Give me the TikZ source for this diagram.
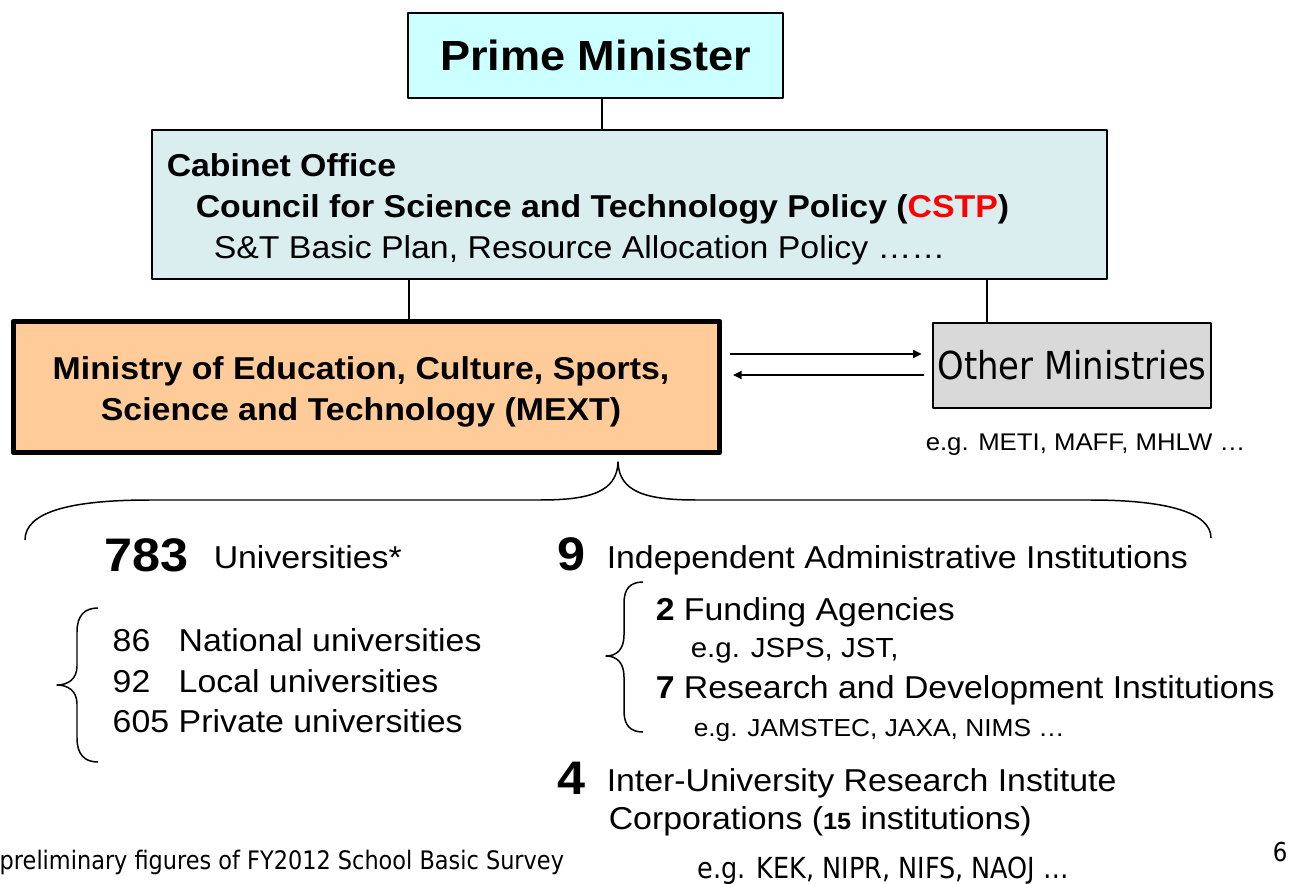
\documentclass[tikz,border=0pt]{standalone}
\usepackage{fontspec}
\setmainfont{Liberation Sans}[FakeStretch=1.07]
\newfontfamily\tahfont{DejaVu Sans}[FakeStretch=0.88]
\usetikzlibrary{arrows.meta}
\definecolor{pmcyan}{RGB}{204,255,255}
\definecolor{cabblue}{RGB}{218,238,240}
\definecolor{mextorange}{RGB}{255,204,153}
\definecolor{othergray}{RGB}{217,217,217}
\definecolor{cstpred}{RGB}{255,0,0}
\begin{document}
\begin{tikzpicture}
[x=0.02cm, y=-0.02cm, line width=0.85pt, line join=round,
 box/.style={draw, inner sep=0},
 txt/.style={anchor=base west, inner sep=0, font=\fontsize{18}{21}\selectfont},
 bold/.style={font=\bfseries\fontsize{18}{21}\selectfont},
 bignum/.style={font=\bfseries\fontsize{26.8}{30}\selectfont},
 arr/.style={-{Triangle[length=5pt,width=4.6pt]}, shorten <=0.16cm, shorten >=0.21cm}]
\useasboundingbox (0,0) rectangle (1293,884);
% top of the tree
\node[box, fill=pmcyan, minimum width=7.5cm, minimum height=1.7cm,
  font=\bfseries\fontsize{24}{28}\selectfont] (pm) at (595.5,55.5) {Prime Minister};
\node[box, fill=cabblue, minimum width=19.1cm, minimum height=2.98cm] (cab) at (629.5,204.5) {};
\node[txt, bold] (cabt) at (166,177) {Cabinet Office};
\node[txt, bold] (cstp) at (195,218) {Council for Science and Technology Policy (\textcolor{cstpred}{CSTP})};
\node[txt] (plan) at (213,259) {S\&T Basic Plan, Resource Allocation Policy ……};
\node[box, line width=2.85pt, fill=mextorange, minimum width=14.14cm, minimum height=2.62cm] (mext) at (366.5,387) {};
\node[align=center, inner sep=0, font=\bfseries\fontsize{18}{23.3}\selectfont] (mextt) at (361,392)
  {Ministry of Education, Culture, Sports,\\Science and Technology (MEXT)};
\node[box, fill=othergray, minimum width=5.56cm, minimum height=1.7cm,
  font=\tahfont\fontsize{21.9}{26}\selectfont] (other) at (1072,365.5) {Other Ministries};
\node[txt, font=\fontsize{13.7}{16}\selectfont] (othereg) at (925,451) {e.g. METI, MAFF, MHLW …};
\draw (pm.south -| 602,0) -- (cab.north -| 602,0);
\draw (cab.south -| 409,0) -- (mext.north -| 409,0);
\draw (cab.south -| 987,0) -- (other.north -| 987,0);
\draw[arr] (mext.east |- 0,354) -- (other.west |- 0,354);
\draw[arr] (other.west |- 0,375) -- (mext.east |- 0,375);
% braces
\draw (25,540) .. controls (25,512) and (70,500) .. (150,500) -- (540,500)
  .. controls (590,500) and (617,492) .. (618,462)
  .. controls (619,492) and (646,500) .. (696,500) -- (1090,500)
  .. controls (1165,500) and (1211,512) .. (1211,538);
\draw (98,608) .. controls (85,608) and (77,615) .. (77,632) -- (77,666)
  .. controls (77,679) and (68,685) .. (57,685)
  .. controls (68,685) and (77,691) .. (77,704) -- (77,738)
  .. controls (77,755) and (85,762) .. (98,762);
\draw (643,582) .. controls (630,582) and (624,589) .. (624,603) -- (624,635)
  .. controls (624,649) and (617,656) .. (606,656)
  .. controls (617,656) and (624,663) .. (624,677) -- (624,711)
  .. controls (624,725) and (630,732) .. (643,732);
% universities
\node[txt, bignum] (n783) at (104,571) {783};
\node[txt] (univ) at (213,568) {Universities*};
\foreach \n/\name/\y in {86/National universities/651, 92/Local universities/692, 605/Private universities/732}{
  \node[txt] (num\n) at (112,\y) {\n};
  \node[txt] (uni\n) at (178,\y) {\name};
}
% institutions
\node[txt, bignum] (n9) at (557,570) {9};
\node[txt] (iai) at (606,568) {Independent Administrative Institutions};
\node[txt] (fund) at (655,620) {\textbf{2} Funding Agencies};
\node[txt, font=\fontsize{15.7}{18}\selectfont] (fundeg) at (690,657) {e.g. JSPS, JST,};
\node[txt] (rnd) at (655,698) {\textbf{7} Research and Development Institutions};
\node[txt, font=\fontsize{14}{16}\selectfont] (rndeg) at (693,736) {e.g. JAMSTEC, JAXA, NIMS …};
\node[txt, bignum] (n4) at (557,794) {4};
\node[txt] (iurc) at (606,791) {Inter-University Research Institute};
\node[txt] (corp) at (608,829) {Corporations ({\bfseries\fontsize{13.4}{16}\selectfont 15} institutions)};
% footer
\node[txt, font=\tahfont\fontsize{14.5}{17}\selectfont] (note) at (-1,869) {preliminary figures of FY2012 School Basic Survey};
\node[txt, font=\tahfont\fontsize{16.5}{19}\selectfont] (kekeg) at (697,878) {e.g. KEK, NIPR, NIFS, NAOJ …};
\node[txt, font=\tahfont\fontsize{14.8}{17}\selectfont] (page) at (1272,861) {6};
\end{tikzpicture}
\end{document}
